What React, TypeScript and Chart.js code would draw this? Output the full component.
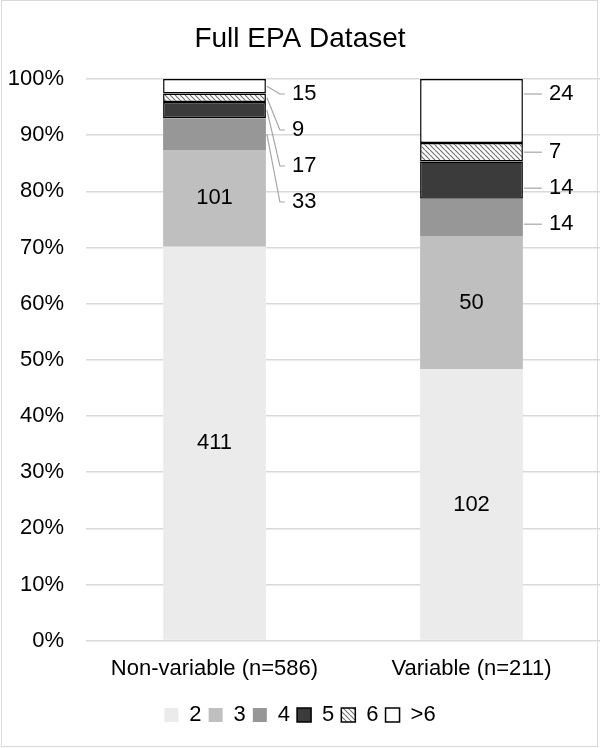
import React, { useEffect, useRef } from 'react';
import { Chart, registerables } from 'chart.js';

Chart.register(...registerables);

const FONT = '"Liberation Sans", Arial, sans-serif';

const titleText = 'Full EPA Dataset';
const categories = ['Non-variable (n=586)', 'Variable (n=211)'];
const seriesNames = ['2', '3', '4', '5', '6', '>6'];
const count2 = [411, 102];
const count3 = [101, 50];
const count4 = [33, 14];
const count5 = [17, 14];
const count6 = [9, 7];
const countOver6 = [15, 24];
const yTickStep = 10;
const yMax = 100;

const allCounts = [count2, count3, count4, count5, count6, countOver6];
const insideSeries = [0, 1];
const outsideSeries = [5, 4, 3, 2];

function makeHatch(): CanvasPattern | string {
  const s = 5;
  const c = document.createElement('canvas');
  c.width = s;
  c.height = s;
  const g = c.getContext('2d');
  if (!g) return '#ccc';
  g.fillStyle = '#ffffff';
  g.fillRect(0, 0, s, s);
  g.strokeStyle = '#6e6e6e';
  g.lineWidth = 1.1;
  for (let k = -1; k <= 1; k++) {
    g.beginPath();
    g.moveTo(k * s, 0);
    g.lineTo(k * s + s, s);
    g.stroke();
  }
  const p = g.createPattern(c, 'repeat');
  return p || '#ccc';
}

const segLabels = {
  id: 'segLabels',
  afterDatasetsDraw(chart: any) {
    const ctx = chart.ctx;
    ctx.save();
    ctx.font = `22px ${FONT}`;
    ctx.fillStyle = '#000';
    ctx.textBaseline = 'middle';
    const n = chart.data.labels.length;
    for (let j = 0; j < n; j++) {
      insideSeries.forEach((di) => {
        const el = chart.getDatasetMeta(di).data[j];
        const p = el.getProps(['x', 'y', 'base'], true);
        ctx.textAlign = 'center';
        ctx.fillText(String(allCounts[di][j]), p.x, (p.y + p.base) / 2);
      });
      let prevY: number | null = null;
      outsideSeries.forEach((di) => {
        const el = chart.getDatasetMeta(di).data[j];
        const p = el.getProps(['x', 'y', 'base', 'width'], true);
        const top = Math.min(p.y, p.base);
        const bot = Math.max(p.y, p.base);
        const mid = (top + bot) / 2;
        const ly: number =
          prevY === null ? chart.chartArea.top + 15 : Math.max(mid, prevY + 36);
        prevY = ly;
        const right = p.x + p.width / 2;
        const lx = right + 26;
        const sy = ly >= top && ly <= bot ? ly : mid;
        ctx.strokeStyle = '#a6a6a6';
        ctx.lineWidth = 1.2;
        ctx.beginPath();
        ctx.moveTo(right + 1, sy);
        ctx.lineTo(lx - 12, ly);
        ctx.lineTo(lx - 7, ly);
        ctx.stroke();
        ctx.textAlign = 'left';
        ctx.fillText(String(allCounts[di][j]), lx, ly);
      });
    }
    ctx.restore();
  },
};

const frame = {
  id: 'frame',
  afterDraw(chart: any) {
    const ctx = chart.ctx;
    ctx.save();
    ctx.strokeStyle = '#d9d9d9';
    ctx.lineWidth = 1;
    ctx.strokeRect(1.5, 0.5, 596, 746);
    ctx.restore();
  },
};

export default function App() {
  const ref = useRef<HTMLCanvasElement | null>(null);

  useEffect(() => {
    document.body.style.margin = '0';
    const canvas = ref.current;
    if (!canvas) return;
    const hatch = makeHatch();
    const totals = categories.map((_, j) => allCounts.reduce((s, arr) => s + arr[j], 0));
    const pct = (arr: number[]) => arr.map((v, j) => (v / totals[j]) * 100);

    const fills: any[] = ['#ebebeb', '#bfbfbf', '#979797', '#3b3b3b', hatch, '#ffffff'];
    const borders = [0, 0, 0, 1.5, 1.5, 1.5];

    const chart = new Chart(canvas, {
      type: 'bar',
      data: {
        labels: categories,
        datasets: allCounts.map((arr, i) => ({
          label: seriesNames[i],
          data: pct(arr),
          backgroundColor: fills[i],
          borderColor: '#000000',
          borderWidth: borders[i],
          borderSkipped: false,
          barPercentage: 0.4,
          categoryPercentage: 1,
        })),
      },
      options: {
        responsive: true,
        maintainAspectRatio: false,
        animation: false,
        layout: { padding: { top: 0, left: 0, right: 0, bottom: 12 } },
        font: { family: FONT },
        plugins: {
          title: {
            display: true,
            text: titleText,
            color: '#000',
            font: { family: FONT, size: 28, weight: 'normal' },
            padding: { top: 22, bottom: 23.4 },
          },
          legend: {
            display: true,
            position: 'bottom',
            labels: {
              color: '#000',
              font: { family: FONT, size: 22 },
              boxWidth: 14,
              boxHeight: 14,
              padding: 7,
            },
          },
          tooltip: { enabled: false },
        },
        scales: {
          x: {
            stacked: true,
            grid: { display: false },
            border: { display: false },
            ticks: { color: '#000', font: { family: FONT, size: 22 }, padding: 7 },
            title: {
              display: true,
              text: '',
              font: { size: 6, lineHeight: 1 },
              padding: { top: 1, bottom: 1 },
            },
          },
          y: {
            stacked: true,
            min: 0,
            max: yMax,
            grid: { color: '#d9d9d9', lineWidth: 1.5, drawTicks: false },
            border: { display: false },
            ticks: {
              stepSize: yTickStep,
              color: '#000',
              font: { family: FONT, size: 22 },
              padding: 22,
              callback: (v: any) => `${v}%`,
            },
            afterFit: (scale: any) => {
              scale.width = 86;
            },
          },
        },
      },
      plugins: [segLabels, frame],
    });
    return () => chart.destroy();
  }, []);

  return (
    <div style={{ width: 600, height: 748, position: 'relative' }}>
      <canvas ref={ref} />
    </div>
  );
}
